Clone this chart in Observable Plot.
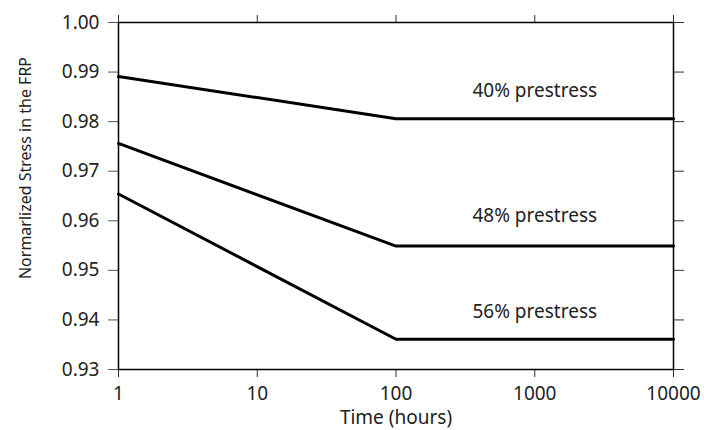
<!DOCTYPE html>
<html>
<head>
<meta charset="utf-8">
<script src="https://cdn.jsdelivr.net/npm/d3@7"></script>
<script src="https://cdn.jsdelivr.net/npm/@observablehq/plot@0.6"></script>
<style>
  html, body { margin: 0; padding: 0; background: #fff; }
  #chart svg { display: block; }
</style>
</head>
<body>
<div id="chart"></div>
<script>
// Data
const times = [1, 100, 10000];
const series = ["40% prestress", "48% prestress", "56% prestress"];
const stress40 = [0.9891, 0.9806, 0.9806];
const stress48 = [0.9756, 0.9549, 0.9549];
const stress56 = [0.9654, 0.9361, 0.9361];
const labelTime = [1000, 1000, 1000];
const labelStress = [0.9863, 0.9609, 0.9417];
const xTicks = [1, 10, 100, 1000, 10000];
const yTicks = [0.93, 0.94, 0.95, 0.96, 0.97, 0.98, 0.99, 1.00];

const allValues = [stress40, stress48, stress56];
const rows = [];
series.forEach((s, i) => {
  times.forEach((t, j) => rows.push({series: s, time: t, stress: allValues[i][j]}));
});
const labels = series.map((s, i) => ({series: s, time: labelTime[i], stress: labelStress[i]}));

const font = "'Noto Sans', sans-serif";
const fs = 19;

const chart = Plot.plot({
  width: 704,
  height: 430,
  marginLeft: 118,
  marginRight: 31,
  marginTop: 22,
  marginBottom: 61,
  style: {fontFamily: font, fontSize: fs + "px", color: "#222", background: "#fff", overflow: "visible"},
  x: {type: "log", domain: [1, 10000]},
  y: {domain: [0.93, 1.00]},
  marks: [
    Plot.axisY(yTicks, {anchor: "left", tickSize: 10, tickPadding: 9, tickFormat: d3.format(".2f"), label: null, fontSize: fs, stroke: "#555"}),
    Plot.axisY(yTicks, {anchor: "right", tickSize: 10, tickFormat: () => "", label: null, stroke: "#333"}),
    Plot.axisX(xTicks, {anchor: "bottom", tickSize: 8, tickPadding: 9, tickFormat: d3.format("d"), label: null, fontSize: fs, stroke: "#333"}),
    Plot.axisX(xTicks, {anchor: "top", tickSize: 8, tickFormat: () => "", label: null, stroke: "#333"}),
    Plot.frame({stroke: "#000", strokeWidth: 1.5}),
    Plot.line(rows, {x: "time", y: "stress", z: "series", stroke: "#000", strokeWidth: 3}),
    Plot.text(labels, {x: "time", y: "stress", text: "series", fontSize: fs, fill: "#222", textAnchor: "middle"}),
    Plot.text(["Time (hours)"], {frameAnchor: "bottom", dy: 48, fontSize: fs, fill: "#222", textAnchor: "middle", lineAnchor: "middle"}),
    Plot.text(["Normarlized Stress in the FRP"], {frameAnchor: "left", dx: -93, dy: -28, rotate: -90, fontSize: 16, fill: "#222", textAnchor: "middle", lineAnchor: "middle"})
  ]
});
document.getElementById("chart").appendChild(chart);
</script>
</body>
</html>
